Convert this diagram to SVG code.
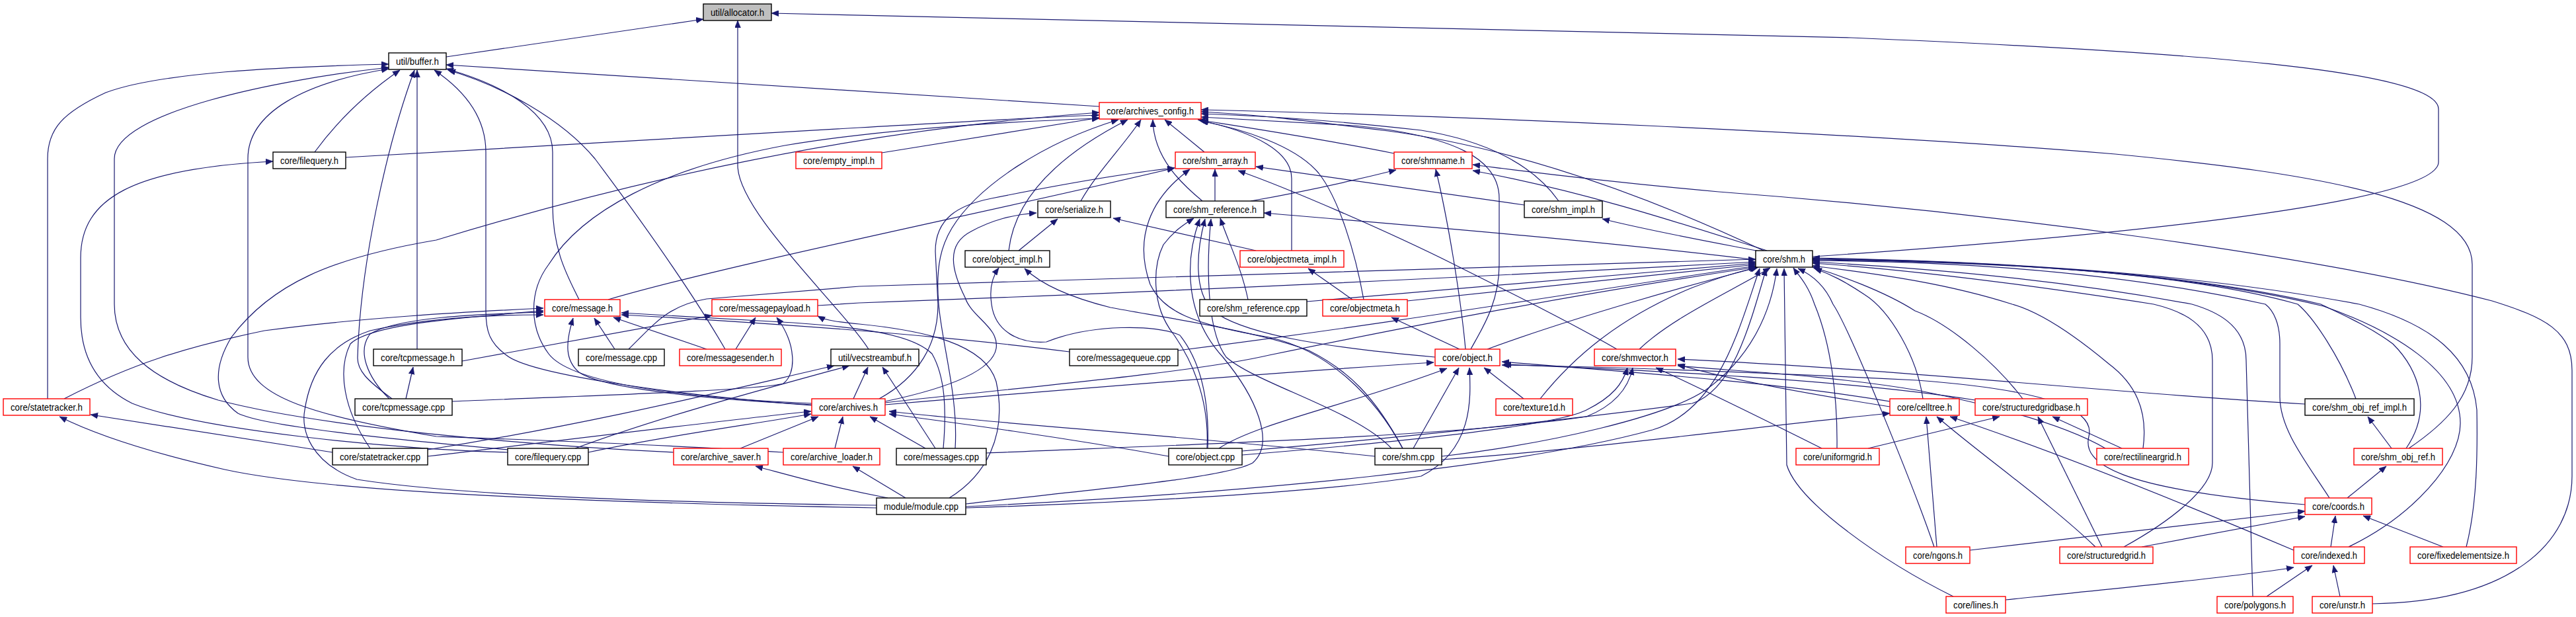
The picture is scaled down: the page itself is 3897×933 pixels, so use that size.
<svg xmlns="http://www.w3.org/2000/svg" width="3897" height="933" viewBox="0 0 3897 933">
<style>
.nd rect{fill:#fff;stroke:#000;stroke-width:1.4}
.rd rect{fill:#fff;stroke:#ff0000;stroke-width:1.4}
.gr rect{fill:#bfbfbf;stroke:#000;stroke-width:1.4}
text{font-family:"Liberation Sans",Arial,Helvetica,sans-serif;font-size:14px;text-anchor:middle;fill:#000}
#edges path{fill:none;stroke:#191970;stroke-width:1.2;marker-end:url(#ah)}
</style>
<defs>
<marker id="ah" markerUnits="userSpaceOnUse" markerWidth="11" markerHeight="9" refX="11" refY="4.5" orient="auto" viewBox="0 0 11 9">
<path d="M0,0 L11,4.5 L0,9 z" fill="#191970" stroke="#191970" stroke-width="0.5"/>
</marker>
</defs>
<rect width="3897" height="933" fill="#fff"/>
<g id="edges">
<path d="M675,86 L1064,29"/>
<path d="M1314,528 C1270,460 1116,320 1116,250 L1116,31"/>
<path d="M2742,388 C3300,350 3689,300 3689,245 L3689,165 C3689,105 3300,78 2800,57 C2200,40 1600,25 1167,20"/>
<path d="M72,603 L72,240 C72,195 95,170 160,140 C240,110 420,101 588,97"/>
<path d="M1019,684 C850,676 500,650 330,605 C230,575 173,530 173,460 L173,240 C173,170 420,120 588,102"/>
<path d="M1185,684 C1000,672 800,665 660,660 C480,630 375,600 375,540 L375,240 C375,170 460,125 588,104"/>
<path d="M476,230 C520,170 570,130 605,106"/>
<path d="M593,603 C555,575 540,560 541,540 C545,400 585,220 627,106"/>
<path d="M631,528 L631,106"/>
<path d="M1663,161 L675,98"/>
<path d="M876,453 C860,420 836,380 836,310 L836,230 C836,170 760,128 675,104"/>
<path d="M1097,528 C1040,430 960,320 900,240 C850,180 760,130 678,106"/>
<path d="M1228,613 C1000,595 800,565 766,537 C740,518 735,500 735,470 L735,230 C735,175 700,135 657,106"/>
<path d="M523,238 L1300,193 C1450,185 1550,178 1663,174"/>
<path d="M1228,610 C1000,600 860,575 830,535 C800,495 800,440 830,400 C880,320 1000,255 1187,220 C1350,193 1550,183 1663,179"/>
<path d="M768,680 C600,665 400,645 360,625 C325,600 320,560 350,510 C410,430 500,390 660,363 C900,290 1250,200 1663,170"/>
<path d="M768,684 C600,680 300,650 200,610 C140,580 122,530 122,480 L122,390 C122,300 200,255 413,244"/>
<path d="M1334,231 L1663,178"/>
<path d="M1822,230 L1762,181"/>
<path d="M1635,304 C1660,260 1700,220 1726,181"/>
<path d="M1819,304 C1790,280 1745,240 1744,181"/>
<path d="M1526,379 C1535,300 1600,235 1706,181"/>
<path d="M1445,678 C1450,600 1425,520 1420,460 C1415,400 1425,370 1440,345 C1480,280 1580,215 1692,181"/>
<path d="M2109,232 C2000,210 1900,195 1812,181"/>
<path d="M1954,379 L1954,270 C1954,230 1900,200 1815,182"/>
<path d="M2063,453 C2050,380 2025,300 1995,262 C1960,220 1880,195 1817,183"/>
<path d="M2358,304 C2320,250 2250,213 2150,197 C2000,180 1900,175 1817,172"/>
<path d="M2668,379 C2500,300 2300,225 2100,198 C1980,183 1900,173 1817,169"/>
<path d="M2225,528 C2240,500 2268,460 2268,400 L2268,300 C2268,240 2200,205 2050,190 L1817,177"/>
<path d="M3644,678 C3700,640 3740,600 3740,540 L3740,400 C3740,300 3500,262 3200,233 C2800,200 2200,175 1817,166"/>
<path d="M1838,304 L1838,256"/>
<path d="M2306,310 L1900,252"/>
<path d="M920,453 C1100,400 1500,320 1777,254"/>
<path d="M2122,678 C2080,600 2010,530 1920,510 C1800,490 1760,470 1740,430 C1715,360 1740,300 1800,256"/>
<path d="M1892,304 C2000,285 2080,265 2112,257"/>
<path d="M2673,379 C2550,340 2400,290 2228,258"/>
<path d="M3589,913 C3800,910 3891,820 3891,720 L3891,560 C3891,500 3850,480 3770,455 C3500,385 3000,320 2600,290 C2400,272 2300,258 2228,249"/>
<path d="M2217,528 C2210,450 2190,330 2172,256"/>
<path d="M2662,380 C2600,368 2500,350 2424,331"/>
<path d="M2656,393 C2400,362 2100,338 1912,322"/>
<path d="M1888,453 C1878,405 1860,370 1846,330"/>
<path d="M1826,678 C1830,600 1800,540 1775,505 C1740,460 1745,400 1760,370 C1775,350 1790,340 1806,330"/>
<path d="M1461,762 C1600,745 1850,725 1895,700 C1930,670 1900,600 1850,540 C1795,480 1790,400 1815,331"/>
<path d="M2171,540 C2000,525 1880,505 1835,470 C1805,440 1810,380 1823,331"/>
<path d="M2105,678 C2050,620 1900,580 1855,540 C1825,500 1825,400 1832,331"/>
<path d="M1541,379 L1600,331"/>
<path d="M1339,607 C1420,590 1500,565 1507,527 C1512,495 1470,480 1460,450 C1440,410 1430,370 1469,350 C1500,333 1530,325 1568,322"/>
<path d="M1330,603 C1390,570 1419,520 1419,460 L1415,380 C1415,330 1450,310 1500,300 C1600,280 1700,262 1777,254"/>
<path d="M1827,678 C1830,600 1815,545 1785,507 C1750,490 1650,490 1583,517 C1540,520 1505,500 1500,460 C1497,440 1500,420 1511,405"/>
<path d="M2122,678 C2080,600 2040,560 1980,530 C1900,500 1760,480 1680,465 C1620,450 1575,430 1550,406"/>
<path d="M2046,453 L1979,406"/>
<path d="M97,603 C200,550 280,525 400,500 C550,480 700,472 822,466"/>
<path d="M560,678 C520,620 510,560 530,520 C560,490 700,480 822,470"/>
<path d="M589,603 C555,570 540,530 560,505 C600,480 720,475 822,472"/>
<path d="M1326,764 C1000,760 700,750 540,725 C470,700 455,650 461,620 C470,560 500,520 560,500 C650,480 750,476 822,476"/>
<path d="M1228,612 C1000,600 900,580 876,563 C855,545 855,520 867,481"/>
<path d="M930,528 L899,481"/>
<path d="M1069,528 L928,480"/>
<path d="M1427,678 C1432,620 1430,570 1410,535 C1380,505 1300,495 1200,488 C1100,482 1000,476 940,473"/>
<path d="M1618,532 C1450,510 1200,490 940,476"/>
<path d="M699,546 L1077,477"/>
<path d="M1113,528 L1143,480"/>
<path d="M684,607 C900,598 1150,590 1185,580 C1205,565 1205,520 1175,480"/>
<path d="M1436,753 C1490,720 1525,660 1507,577 C1490,520 1400,500 1300,490 C1270,487 1250,485 1237,478"/>
<path d="M951,528 C990,490 1010,462 1069,452 L1300,433 C1800,418 2300,405 2656,392"/>
<path d="M1237,462 L1300,458 C1800,440 2300,415 2656,396"/>
<path d="M1977,456 L2656,398"/>
<path d="M2129,455 L2656,400"/>
<path d="M1782,530 C2100,490 2400,440 2656,402"/>
<path d="M1339,609 C1500,590 1800,565 1920,537 C2100,500 2350,450 2656,404"/>
<path d="M2250,528 C2380,480 2560,430 2660,404"/>
<path d="M2480,528 C2530,480 2620,440 2678,405"/>
<path d="M2330,603 C2380,540 2450,480 2560,435 C2600,420 2630,410 2658,405"/>
<path d="M2181,690 C2350,670 2520,630 2580,590 C2650,540 2680,470 2688,406"/>
<path d="M1879,682 C2150,660 2450,625 2560,610 C2620,590 2645,500 2672,406"/>
<path d="M1461,766 C1900,745 2300,705 2500,650 C2600,620 2630,500 2662,406"/>
<path d="M2909,603 C2900,540 2860,470 2820,445 C2790,425 2770,415 2745,406"/>
<path d="M2779,678 C2780,600 2770,520 2745,460 C2735,430 2720,415 2713,405"/>
<path d="M2926,827 C2900,750 2800,500 2773,460 C2760,430 2740,415 2720,406"/>
<path d="M3060,603 C3020,550 2950,490 2897,470 C2850,440 2780,415 2742,404"/>
<path d="M3242,678 C3250,620 3230,580 3190,550 C3130,500 3080,470 3044,460 C2950,430 2850,415 2742,402"/>
<path d="M2955,902 C2850,850 2720,760 2703,703 L2699,406"/>
<path d="M3213,827 C3280,790 3347,740 3347,700 L3347,545 C3347,490 3300,470 3258,460 C3000,420 2850,405 2742,398"/>
<path d="M3408,902 L3398,545 C3398,490 3350,470 3316,460 C3100,420 2900,405 2742,396"/>
<path d="M3524,753 C3490,700 3449,650 3449,600 L3449,520 C3449,490 3440,470 3427,460 C3200,410 2950,395 2742,394"/>
<path d="M3564,603 C3540,540 3500,480 3476,460 C3300,410 3000,395 2742,393"/>
<path d="M3640,678 C3680,620 3660,560 3620,520 C3580,490 3530,470 3511,460 C3300,410 3000,395 2742,392"/>
<path d="M3553,827 C3650,780 3722,700 3722,640 C3722,560 3620,500 3515,463 C3300,410 3000,395 2742,391"/>
<path d="M3731,827 C3748,760 3748,680 3747,620 C3740,540 3680,490 3569,460 C3300,410 3000,395 2742,390"/>
<path d="M2208,528 L2105,480"/>
<path d="M1339,612 C1600,590 1900,565 2169,548"/>
<path d="M2138,678 L2207,556"/>
<path d="M1461,768 C1700,760 2000,745 2150,720 C2230,680 2225,600 2223,556"/>
<path d="M2305,603 L2245,556"/>
<path d="M2865,608 C2700,580 2500,565 2272,547"/>
<path d="M2988,605 C2800,575 2500,560 2275,551"/>
<path d="M3487,763 C3200,740 3150,700 3160,660 C3170,620 3100,590 2900,575 C2700,565 2450,555 2272,552"/>
<path d="M3487,611 C3200,595 2900,560 2538,543"/>
<path d="M2859,615 C2700,590 2600,570 2538,551"/>
<path d="M2756,678 C2680,640 2600,600 2505,556"/>
<path d="M3185,678 C3120,640 3000,610 2900,590 C2750,565 2600,560 2538,553"/>
<path d="M1879,688 C2100,670 2350,645 2400,620 C2440,600 2455,580 2462,556"/>
<path d="M1492,685 C1800,672 2200,660 2400,630 C2450,610 2465,580 2470,556"/>
<path d="M3470,832 C3300,760 3100,680 2950,630"/>
<path d="M2930,827 L2914,630"/>
<path d="M3170,827 C3100,760 3000,690 2930,630"/>
<path d="M2181,695 C2400,680 2700,640 2859,625"/>
<path d="M2826,678 L3025,630"/>
<path d="M3180,827 L3083,630"/>
<path d="M3210,678 L3105,630"/>
<path d="M3551,753 L3610,705"/>
<path d="M3618,678 L3582,630"/>
<path d="M3526,827 L3533,780"/>
<path d="M3696,827 L3575,780"/>
<path d="M3240,827 L3487,781"/>
<path d="M2980,832 L3487,773"/>
<path d="M3429,902 L3498,855"/>
<path d="M3540,902 L3530,855"/>
<path d="M3034,907 C3200,890 3400,870 3470,858"/>
<path d="M1343,753 C1250,735 1200,720 1143,705"/>
<path d="M1370,753 L1290,705"/>
<path d="M1326,768 C900,760 500,745 340,710 C230,685 150,660 90,630"/>
<path d="M503,684 L137,627"/>
<path d="M614,603 L625,555"/>
<path d="M1900,379 L1684,330"/>
<path d="M1291,603 L1313,555"/>
<path d="M1415,678 L1335,555"/>
<path d="M647,680 C900,640 1100,590 1262,553"/>
<path d="M870,678 C1000,630 1150,590 1285,553"/>
<path d="M1120,678 L1238,630"/>
<path d="M1263,678 L1275,630"/>
<path d="M1400,678 L1316,630"/>
<path d="M1768,690 C1600,660 1450,640 1345,626"/>
<path d="M2080,690 C1800,660 1500,640 1345,622"/>
<path d="M647,690 C900,660 1100,635 1227,622"/>
<path d="M890,684 C1000,660 1150,640 1227,626"/>
<path d="M2446,528 C2380,490 2300,450 2200,400 C2100,350 1950,285 1873,258"/>
<path d="M1844,678 C1900,640 2050,610 2189,557"/>
</g>
<g id="n-allocator" class="gr"><rect x="1064" y="6" width="103" height="25"/><text x="1115.5" y="24" textLength="81" lengthAdjust="spacingAndGlyphs">util/allocator.h</text></g>
<g id="n-buffer" class="nd"><rect x="588" y="80" width="87" height="25"/><text x="631.5" y="98" textLength="65" lengthAdjust="spacingAndGlyphs">util/buffer.h</text></g>
<g id="n-archives_config" class="rd"><rect x="1663" y="155" width="154" height="25"/><text x="1740" y="173" textLength="132" lengthAdjust="spacingAndGlyphs">core/archives_config.h</text></g>
<g id="n-filequery_h" class="nd"><rect x="413" y="230" width="110" height="25"/><text x="468" y="248" textLength="88" lengthAdjust="spacingAndGlyphs">core/filequery.h</text></g>
<g id="n-empty_impl" class="rd"><rect x="1204" y="230" width="130" height="25"/><text x="1269" y="248" textLength="108" lengthAdjust="spacingAndGlyphs">core/empty_impl.h</text></g>
<g id="n-shm_array" class="rd"><rect x="1778" y="230" width="121" height="25"/><text x="1838.5" y="248" textLength="99" lengthAdjust="spacingAndGlyphs">core/shm_array.h</text></g>
<g id="n-shmname" class="rd"><rect x="2109" y="230" width="118" height="25"/><text x="2168" y="248" textLength="96" lengthAdjust="spacingAndGlyphs">core/shmname.h</text></g>
<g id="n-serialize" class="nd"><rect x="1570" y="304" width="110" height="25"/><text x="1625" y="322" textLength="88" lengthAdjust="spacingAndGlyphs">core/serialize.h</text></g>
<g id="n-shm_reference_h" class="nd"><rect x="1764" y="304" width="148" height="25"/><text x="1838" y="322" textLength="126" lengthAdjust="spacingAndGlyphs">core/shm_reference.h</text></g>
<g id="n-shm_impl" class="nd"><rect x="2306" y="304" width="118" height="25"/><text x="2365" y="322" textLength="96" lengthAdjust="spacingAndGlyphs">core/shm_impl.h</text></g>
<g id="n-object_impl" class="nd"><rect x="1460" y="379" width="128" height="25"/><text x="1524" y="397" textLength="106" lengthAdjust="spacingAndGlyphs">core/object_impl.h</text></g>
<g id="n-objectmeta_impl" class="rd"><rect x="1876" y="379" width="157" height="25"/><text x="1954.5" y="397" textLength="135" lengthAdjust="spacingAndGlyphs">core/objectmeta_impl.h</text></g>
<g id="n-shm_h" class="nd"><rect x="2656" y="379" width="86" height="25"/><text x="2699" y="397" textLength="64" lengthAdjust="spacingAndGlyphs">core/shm.h</text></g>
<g id="n-message_h" class="rd"><rect x="824" y="453" width="114" height="25"/><text x="881" y="471" textLength="92" lengthAdjust="spacingAndGlyphs">core/message.h</text></g>
<g id="n-messagepayload" class="rd"><rect x="1077" y="453" width="160" height="25"/><text x="1157" y="471" textLength="138" lengthAdjust="spacingAndGlyphs">core/messagepayload.h</text></g>
<g id="n-shm_reference_cpp" class="nd"><rect x="1815" y="453" width="162" height="25"/><text x="1896" y="471" textLength="140" lengthAdjust="spacingAndGlyphs">core/shm_reference.cpp</text></g>
<g id="n-objectmeta_h" class="rd"><rect x="2001" y="453" width="128" height="25"/><text x="2065" y="471" textLength="106" lengthAdjust="spacingAndGlyphs">core/objectmeta.h</text></g>
<g id="n-tcpmessage_h" class="nd"><rect x="565" y="528" width="134" height="25"/><text x="632" y="546" textLength="112" lengthAdjust="spacingAndGlyphs">core/tcpmessage.h</text></g>
<g id="n-message_cpp" class="nd"><rect x="875" y="528" width="130" height="25"/><text x="940" y="546" textLength="108" lengthAdjust="spacingAndGlyphs">core/message.cpp</text></g>
<g id="n-messagesender" class="rd"><rect x="1028" y="528" width="154" height="25"/><text x="1105" y="546" textLength="132" lengthAdjust="spacingAndGlyphs">core/messagesender.h</text></g>
<g id="n-vecstreambuf" class="nd"><rect x="1257" y="528" width="133" height="25"/><text x="1323.5" y="546" textLength="111" lengthAdjust="spacingAndGlyphs">util/vecstreambuf.h</text></g>
<g id="n-messagequeue" class="nd"><rect x="1618" y="528" width="164" height="25"/><text x="1700" y="546" textLength="142" lengthAdjust="spacingAndGlyphs">core/messagequeue.cpp</text></g>
<g id="n-object_h" class="rd"><rect x="2171" y="528" width="98" height="25"/><text x="2220" y="546" textLength="76" lengthAdjust="spacingAndGlyphs">core/object.h</text></g>
<g id="n-shmvector" class="rd"><rect x="2412" y="528" width="123" height="25"/><text x="2473.5" y="546" textLength="101" lengthAdjust="spacingAndGlyphs">core/shmvector.h</text></g>
<g id="n-statetracker_h" class="rd"><rect x="5" y="603" width="131" height="25"/><text x="70.5" y="621" textLength="109" lengthAdjust="spacingAndGlyphs">core/statetracker.h</text></g>
<g id="n-tcpmessage_cpp" class="nd"><rect x="537" y="603" width="147" height="25"/><text x="610.5" y="621" textLength="125" lengthAdjust="spacingAndGlyphs">core/tcpmessage.cpp</text></g>
<g id="n-archives_h" class="rd"><rect x="1228" y="603" width="111" height="25"/><text x="1283.5" y="621" textLength="89" lengthAdjust="spacingAndGlyphs">core/archives.h</text></g>
<g id="n-texture1d" class="rd"><rect x="2263" y="603" width="116" height="25"/><text x="2321" y="621" textLength="94" lengthAdjust="spacingAndGlyphs">core/texture1d.h</text></g>
<g id="n-celltree" class="rd"><rect x="2859" y="603" width="105" height="25"/><text x="2911.5" y="621" textLength="83" lengthAdjust="spacingAndGlyphs">core/celltree.h</text></g>
<g id="n-structuredgridbase" class="rd"><rect x="2988" y="603" width="170" height="25"/><text x="3073" y="621" textLength="148" lengthAdjust="spacingAndGlyphs">core/structuredgridbase.h</text></g>
<g id="n-shm_obj_ref_impl" class="nd"><rect x="3487" y="603" width="165" height="25"/><text x="3569.5" y="621" textLength="143" lengthAdjust="spacingAndGlyphs">core/shm_obj_ref_impl.h</text></g>
<g id="n-statetracker_cpp" class="nd"><rect x="503" y="678" width="144" height="25"/><text x="575" y="696" textLength="122" lengthAdjust="spacingAndGlyphs">core/statetracker.cpp</text></g>
<g id="n-filequery_cpp" class="nd"><rect x="768" y="678" width="122" height="25"/><text x="829" y="696" textLength="100" lengthAdjust="spacingAndGlyphs">core/filequery.cpp</text></g>
<g id="n-archive_saver" class="rd"><rect x="1019" y="678" width="143" height="25"/><text x="1090.5" y="696" textLength="121" lengthAdjust="spacingAndGlyphs">core/archive_saver.h</text></g>
<g id="n-archive_loader" class="rd"><rect x="1185" y="678" width="146" height="25"/><text x="1258" y="696" textLength="124" lengthAdjust="spacingAndGlyphs">core/archive_loader.h</text></g>
<g id="n-messages_cpp" class="nd"><rect x="1356" y="678" width="136" height="25"/><text x="1424" y="696" textLength="114" lengthAdjust="spacingAndGlyphs">core/messages.cpp</text></g>
<g id="n-object_cpp" class="nd"><rect x="1768" y="678" width="111" height="25"/><text x="1823.5" y="696" textLength="89" lengthAdjust="spacingAndGlyphs">core/object.cpp</text></g>
<g id="n-shm_cpp" class="nd"><rect x="2080" y="678" width="101" height="25"/><text x="2130.5" y="696" textLength="79" lengthAdjust="spacingAndGlyphs">core/shm.cpp</text></g>
<g id="n-uniformgrid" class="rd"><rect x="2717" y="678" width="126" height="25"/><text x="2780" y="696" textLength="104" lengthAdjust="spacingAndGlyphs">core/uniformgrid.h</text></g>
<g id="n-rectilineargrid" class="rd"><rect x="3172" y="678" width="139" height="25"/><text x="3241.5" y="696" textLength="117" lengthAdjust="spacingAndGlyphs">core/rectilineargrid.h</text></g>
<g id="n-shm_obj_ref" class="rd"><rect x="3561" y="678" width="134" height="25"/><text x="3628" y="696" textLength="112" lengthAdjust="spacingAndGlyphs">core/shm_obj_ref.h</text></g>
<g id="n-module_cpp" class="nd"><rect x="1326" y="753" width="135" height="25"/><text x="1393.5" y="771" textLength="113" lengthAdjust="spacingAndGlyphs">module/module.cpp</text></g>
<g id="n-coords" class="rd"><rect x="3487" y="753" width="101" height="25"/><text x="3537.5" y="771" textLength="79" lengthAdjust="spacingAndGlyphs">core/coords.h</text></g>
<g id="n-ngons" class="rd"><rect x="2883" y="827" width="97" height="25"/><text x="2931.5" y="845" textLength="75" lengthAdjust="spacingAndGlyphs">core/ngons.h</text></g>
<g id="n-structuredgrid" class="rd"><rect x="3116" y="827" width="141" height="25"/><text x="3186.5" y="845" textLength="119" lengthAdjust="spacingAndGlyphs">core/structuredgrid.h</text></g>
<g id="n-indexed" class="rd"><rect x="3470" y="827" width="107" height="25"/><text x="3523.5" y="845" textLength="85" lengthAdjust="spacingAndGlyphs">core/indexed.h</text></g>
<g id="n-fixedelementsize" class="rd"><rect x="3646" y="827" width="161" height="25"/><text x="3726.5" y="845" textLength="139" lengthAdjust="spacingAndGlyphs">core/fixedelementsize.h</text></g>
<g id="n-lines" class="rd"><rect x="2944" y="902" width="90" height="25"/><text x="2989" y="920" textLength="68" lengthAdjust="spacingAndGlyphs">core/lines.h</text></g>
<g id="n-polygons" class="rd"><rect x="3354" y="902" width="115" height="25"/><text x="3411.5" y="920" textLength="93" lengthAdjust="spacingAndGlyphs">core/polygons.h</text></g>
<g id="n-unstr" class="rd"><rect x="3498" y="902" width="91" height="25"/><text x="3543.5" y="920" textLength="69" lengthAdjust="spacingAndGlyphs">core/unstr.h</text></g>
</svg>
